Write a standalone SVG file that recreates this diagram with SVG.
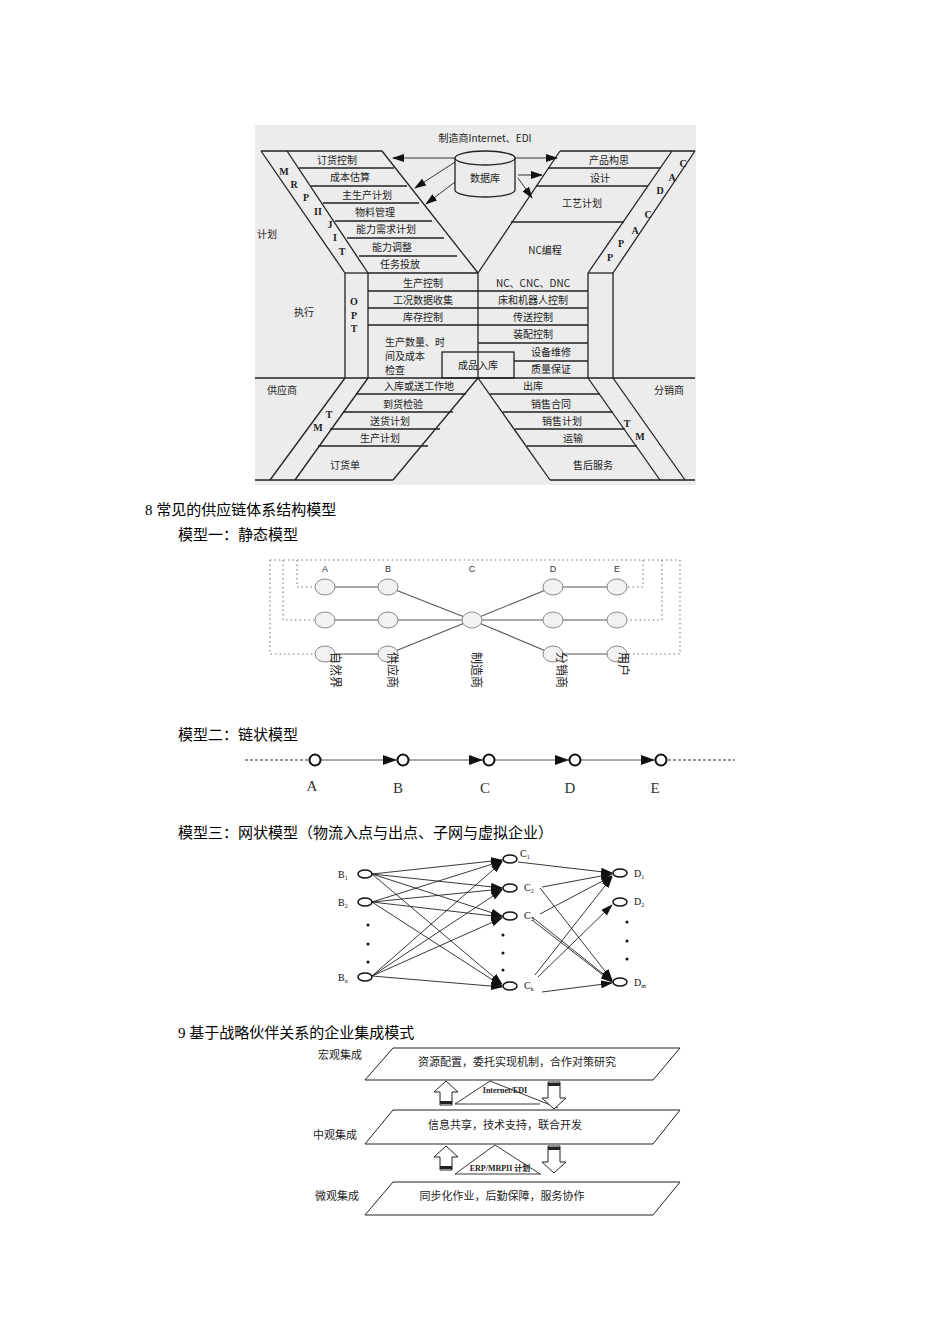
<svg xmlns="http://www.w3.org/2000/svg" width="950" height="1344" viewBox="0 0 950 1344">
<style>
.t{font-family:"Noto Sans CJK SC","Liberation Serif",serif;font-size:10px;fill:#222;text-anchor:middle}
.l{font-family:"Liberation Serif","Noto Sans CJK SC",serif;font-size:10px;font-weight:bold;fill:#222;text-anchor:middle}
.cap{font-family:"Liberation Serif","Noto Sans CJK SC",serif;font-size:15px;fill:#000}
.s{stroke:#222;stroke-width:1.3;fill:none}
.g{stroke:#555;stroke-width:1.1;fill:none}
.d{stroke:#777;stroke-width:1.1;fill:none;stroke-dasharray:1.5 3}
.c{fill:#f2f2f2;stroke:#888;stroke-width:1}
.n{fill:#fff;stroke:#111;stroke-width:1.5}
.a{stroke:#222;stroke-width:0.9;fill:none;marker-end:url(#ah)}
.sa{font-family:"Liberation Serif",serif;font-size:10px;fill:#111}
</style>
<defs>
<marker id="ah" markerWidth="12" markerHeight="8" refX="11" refY="4" orient="auto" markerUnits="userSpaceOnUse"><path d="M0,0 L12,4 L0,8 z" fill="#111"/></marker>
<marker id="ch" markerWidth="14" markerHeight="10" refX="14" refY="5" orient="auto" markerUnits="userSpaceOnUse"><path d="M0,0 L14,5 L0,10 z" fill="#111"/></marker>
</defs>

<g id="x-diagram">
<rect x="255" y="125" width="441" height="360" fill="#ececec"/>
<text class="t" x="485" y="142">制造商Internet、EDI</text>
<g class="s">
<line x1="261" y1="151" x2="345" y2="273"/><line x1="287" y1="151" x2="368" y2="273"/><line x1="382" y1="151" x2="478" y2="273"/>
<line x1="261" y1="151" x2="382" y2="151"/>
<line x1="560" y1="151" x2="478" y2="273"/><line x1="672" y1="151" x2="588" y2="273"/><line x1="695" y1="151" x2="613" y2="273"/>
<line x1="560" y1="151" x2="695" y2="151"/>
<line x1="299" y1="168" x2="394" y2="168"/><line x1="311" y1="186" x2="407" y2="186"/><line x1="323" y1="203" x2="419" y2="203"/>
<line x1="335" y1="221" x2="432" y2="221"/><line x1="347" y1="238" x2="444" y2="238"/><line x1="359" y1="256" x2="457" y2="256"/>
<line x1="548" y1="168" x2="660" y2="168"/><line x1="536" y1="186" x2="648" y2="186"/><line x1="511" y1="222" x2="624" y2="222"/>
<line x1="345" y1="273" x2="345" y2="378"/><line x1="368" y1="273" x2="368" y2="378"/><line x1="478" y1="273" x2="478" y2="378"/>
<line x1="588" y1="273" x2="588" y2="378"/><line x1="613" y1="273" x2="613" y2="378"/>
<line x1="345" y1="273" x2="368" y2="273"/><line x1="368" y1="273" x2="478" y2="273"/><line x1="588" y1="273" x2="613" y2="273"/>
<line x1="368" y1="291" x2="588" y2="291"/><line x1="368" y1="308" x2="588" y2="308"/><line x1="368" y1="325" x2="588" y2="325"/>
<line x1="478" y1="343" x2="588" y2="343"/><line x1="514" y1="361" x2="588" y2="361"/>
<rect x="442" y="352" width="72" height="26"/>
<line x1="255" y1="378" x2="695" y2="378"/>
<line x1="345" y1="378" x2="270" y2="480"/><line x1="368" y1="378" x2="295" y2="480"/><line x1="478" y1="378" x2="393" y2="480"/>
<line x1="478" y1="378" x2="550" y2="480"/><line x1="588" y1="378" x2="660" y2="480"/><line x1="613" y1="378" x2="685" y2="480"/>
<line x1="255" y1="480" x2="393" y2="480"/><line x1="550" y1="480" x2="695" y2="480"/>
<line x1="356" y1="394" x2="466" y2="394"/><line x1="343" y1="412" x2="453" y2="412"/><line x1="330" y1="429" x2="440" y2="429"/><line x1="318" y1="446" x2="428" y2="446"/>
<line x1="490" y1="394" x2="600" y2="394"/><line x1="503" y1="412" x2="613" y2="412"/><line x1="515" y1="429" x2="625" y2="429"/><line x1="527" y1="446" x2="637" y2="446"/>
</g>
<path d="M455,158 L455,190 A30,7 0 0 0 515,190 L515,158" fill="#ececec" stroke="#222" stroke-width="1.3"/>
<ellipse cx="485" cy="158" rx="30" ry="7" fill="#ececec" stroke="#222" stroke-width="1.3"/>
<text class="t" x="485" y="182">数据库</text>
<g class="a">
<line x1="455" y1="158" x2="393" y2="158"/><line x1="515" y1="158" x2="557" y2="158"/>
<line x1="455" y1="162" x2="415" y2="188"/><line x1="455" y1="182" x2="426" y2="204"/>
<line x1="518" y1="175" x2="542" y2="175"/><line x1="518" y1="178" x2="532" y2="198"/>
</g>
<g class="t">
<text x="337" y="164">订货控制</text><text x="350" y="181">成本估算</text><text x="367" y="199">主生产计划</text>
<text x="375" y="216">物料管理</text><text x="386" y="233">能力需求计划</text><text x="392" y="251">能力调整</text><text x="400" y="268">任务投放</text>
<text x="609" y="164">产品构思</text><text x="600" y="182">设计</text><text x="582" y="207">工艺计划</text><text x="545" y="254">NC编程</text>
<text x="423" y="287">生产控制</text><text x="423" y="304">工况数据收集</text><text x="423" y="321">库存控制</text>
<text x="385" y="346" text-anchor="start">生产数量、时</text><text x="385" y="360" text-anchor="start">间及成本</text><text x="385" y="374" text-anchor="start">检查</text>
<text x="478" y="369">成品入库</text>
<text x="533" y="287">NC、CNC、DNC</text><text x="533" y="304">床和机器人控制</text><text x="533" y="321">传送控制</text>
<text x="533" y="338">装配控制</text><text x="551" y="356">设备维修</text><text x="551" y="373">质量保证</text>
<text x="419" y="390">入库或送工作地</text><text x="403" y="408">到货检验</text><text x="390" y="425">送货计划</text><text x="380" y="442">生产计划</text><text x="345" y="469">订货单</text>
<text x="533" y="390">出库</text><text x="551" y="408">销售合同</text><text x="562" y="425">销售计划</text><text x="573" y="442">运输</text><text x="593" y="469">售后服务</text>
<text x="267" y="238">计划</text><text x="304" y="316">执行</text><text x="282" y="394">供应商</text><text x="669" y="394">分销商</text>
</g>
<g class="l">
<text x="284" y="175">M</text><text x="294" y="188">R</text><text x="306" y="201">P</text><text x="318" y="215">II</text><text x="330" y="228">J</text><text x="335" y="241">I</text><text x="342" y="255">T</text>
<text x="354" y="305">O</text><text x="354" y="319">P</text><text x="354" y="332">T</text>
<text x="683" y="167">C</text><text x="672" y="181">A</text><text x="660" y="194">D</text><text x="648" y="218">C</text><text x="635" y="234">A</text><text x="621" y="247">P</text><text x="610" y="261">P</text>
<text x="329" y="418">T</text><text x="318" y="431">M</text><text x="627" y="427">T</text><text x="640" y="440">M</text>
</g>
</g>

<text class="cap" x="145" y="515">8 常见的供应链体系结构模型</text>
<text class="cap" x="178" y="540">模型一：静态模型</text>

<g id="static-model">
<g class="d">
<path d="M270,560 L680,560"/>
<path d="M270,560 L270,654 L315,654"/><path d="M283,560 L283,620 L315,620"/><path d="M297,560 L297,587 L315,587"/>
<path d="M680,560 L680,654 L627,654"/><path d="M662,560 L662,620 L627,620"/><path d="M643,560 L643,587 L627,587"/>
</g>
<g class="g">
<line x1="325" y1="587" x2="388" y2="587"/><line x1="325" y1="620" x2="388" y2="620"/><line x1="325" y1="654" x2="388" y2="654"/>
<line x1="388" y1="587" x2="472" y2="620"/><line x1="388" y1="620" x2="472" y2="620"/><line x1="388" y1="654" x2="472" y2="620"/>
<line x1="472" y1="620" x2="553" y2="587"/><line x1="472" y1="620" x2="553" y2="620"/><line x1="472" y1="620" x2="553" y2="654"/>
<line x1="553" y1="587" x2="617" y2="587"/><line x1="553" y1="620" x2="617" y2="620"/><line x1="553" y1="654" x2="617" y2="654"/>
</g>
<g class="c">
<ellipse cx="325" cy="587" rx="10" ry="8"/><ellipse cx="388" cy="587" rx="10" ry="8"/><ellipse cx="553" cy="587" rx="10" ry="8"/><ellipse cx="617" cy="587" rx="10" ry="8"/>
<ellipse cx="325" cy="620" rx="10" ry="8"/><ellipse cx="388" cy="620" rx="10" ry="8"/><ellipse cx="472" cy="620" rx="10" ry="8"/><ellipse cx="553" cy="620" rx="10" ry="8"/><ellipse cx="617" cy="620" rx="10" ry="8"/>
<ellipse cx="325" cy="654" rx="10" ry="8"/><ellipse cx="388" cy="654" rx="10" ry="8"/><ellipse cx="553" cy="654" rx="10" ry="8"/><ellipse cx="617" cy="654" rx="10" ry="8"/>
</g>
<g style="font-family:'Liberation Sans',sans-serif;font-size:9px;fill:#333;text-anchor:middle">
<text x="325" y="572">A</text><text x="388" y="572">B</text><text x="472" y="572">C</text><text x="553" y="572">D</text><text x="617" y="572">E</text>
</g>
<g style="font-family:'Noto Sans CJK SC',sans-serif;font-size:12px;fill:#222">
<text transform="translate(331,652) rotate(90)">自然界</text>
<text transform="translate(388,652) rotate(90)">供应商</text>
<text transform="translate(472,652) rotate(90)">制造商</text>
<text transform="translate(557,652) rotate(90)">分销商</text>
<text transform="translate(619,652) rotate(90)">用户</text>
</g>
</g>

<text class="cap" x="178" y="740">模型二：链状模型</text>
<g id="chain-model">
<line x1="245" y1="760" x2="309" y2="760" stroke="#333" stroke-width="1.2" stroke-dasharray="3 2"/>
<line x1="668" y1="760" x2="735" y2="760" stroke="#333" stroke-width="1.2" stroke-dasharray="3 2"/>
<g stroke="#555" stroke-width="1" marker-end="url(#ch)">
<line x1="321" y1="760" x2="397" y2="760"/><line x1="409" y1="760" x2="483" y2="760"/><line x1="495" y1="760" x2="569" y2="760"/><line x1="581" y1="760" x2="655" y2="760"/>
</g>
<g fill="#fff" stroke="#111" stroke-width="2">
<circle cx="315" cy="760" r="5.5"/><circle cx="403" cy="760" r="5.5"/><circle cx="489" cy="760" r="5.5"/><circle cx="575" cy="760" r="5.5"/><circle cx="661" cy="760" r="5.5"/>
</g>
<g style="font-family:'Liberation Serif',serif;font-size:15px;fill:#333;text-anchor:middle">
<text x="312" y="791">A</text><text x="398" y="793">B</text><text x="485" y="793">C</text><text x="570" y="793">D</text><text x="655" y="793">E</text>
</g>
</g>

<text class="cap" x="178" y="838">模型三：网状模型（物流入点与出点、子网与虚拟企业）</text>
<g id="network-model">
<g class="a">
<line x1="372" y1="874" x2="502" y2="860"/><line x1="372" y1="874" x2="502" y2="888"/><line x1="372" y1="874" x2="502" y2="916"/><line x1="372" y1="874" x2="502" y2="984"/>
<line x1="372" y1="902" x2="502" y2="861"/><line x1="372" y1="902" x2="502" y2="889"/><line x1="372" y1="902" x2="502" y2="917"/><line x1="372" y1="902" x2="502" y2="986"/>
<line x1="372" y1="976" x2="502" y2="862"/><line x1="372" y1="976" x2="502" y2="890"/><line x1="372" y1="976" x2="502" y2="918"/><line x1="372" y1="976" x2="502" y2="987"/>
<line x1="518" y1="862" x2="612" y2="873"/><line x1="542" y1="887" x2="612" y2="874"/><line x1="540" y1="914" x2="612" y2="876"/>
<line x1="540" y1="888" x2="612" y2="980"/><line x1="532" y1="917" x2="612" y2="981"/><line x1="532" y1="920" x2="612" y2="982"/>
<line x1="535" y1="975" x2="612" y2="877"/><line x1="538" y1="977" x2="612" y2="905"/><line x1="542" y1="992" x2="612" y2="983"/>
</g>
<g class="n">
<ellipse cx="365" cy="874" rx="7" ry="4"/><ellipse cx="365" cy="902" rx="7" ry="4"/><ellipse cx="365" cy="977" rx="7" ry="4"/>
<ellipse cx="510" cy="859" rx="7" ry="4"/><ellipse cx="510" cy="888" rx="7" ry="4"/><ellipse cx="510" cy="916" rx="7" ry="4"/><ellipse cx="510" cy="986" rx="7" ry="4"/>
<ellipse cx="620" cy="873" rx="7" ry="4"/><ellipse cx="620" cy="902" rx="7" ry="4"/><ellipse cx="620" cy="982" rx="7" ry="4"/>
</g>
<g fill="#111">
<circle cx="368" cy="925" r="1.5"/><circle cx="368" cy="944" r="1.5"/><circle cx="368" cy="962" r="1.5"/>
<circle cx="503" cy="935" r="1.5"/><circle cx="503" cy="953" r="1.5"/><circle cx="503" cy="970" r="1.5"/>
<circle cx="627" cy="922" r="1.5"/><circle cx="627" cy="941" r="1.5"/><circle cx="627" cy="959" r="1.5"/>
</g>
<g class="sa">
<text x="338" y="878">B<tspan font-size="6" dy="2">1</tspan></text><text x="338" y="906">B<tspan font-size="6" dy="2">2</tspan></text><text x="338" y="981">B<tspan font-size="6" dy="2">n</tspan></text>
<text x="520" y="857">C<tspan font-size="6" dy="2">1</tspan></text><text x="524" y="891">C<tspan font-size="6" dy="2">2</tspan></text><text x="524" y="919">C<tspan font-size="6" dy="2">3</tspan></text><text x="524" y="989">C<tspan font-size="6" dy="2">k</tspan></text>
<text x="634" y="877">D<tspan font-size="6" dy="2">1</tspan></text><text x="634" y="905">D<tspan font-size="6" dy="2">2</tspan></text><text x="634" y="986">D<tspan font-size="6" dy="2">m</tspan></text>
</g>
</g>

<text class="cap" x="178" y="1038">9 基于战略伙伴关系的企业集成模式</text>
<g id="integration-model">
<g fill="#fff" stroke="#222" stroke-width="1">
<polygon points="393,1048 680,1048 653,1080 365,1080"/>
<polygon points="393,1110 680,1110 653,1144 365,1144"/>
<polygon points="393,1182 680,1182 653,1215 365,1215"/>
</g>
<g fill="none" stroke="#222" stroke-width="0.9">
<polyline points="455,1104 490,1081 558,1108"/><line x1="455" y1="1104" x2="540" y2="1104"/>
<polyline points="455,1174 495,1145 540,1174"/><line x1="455" y1="1174" x2="541" y2="1174"/>
</g>
<g fill="#fff" stroke="#222" stroke-width="1">
<polygon points="440,1105 440,1092 434,1092 446,1081 458,1092 452,1092 452,1105"/>
<polygon points="548,1082 548,1098 542,1098 554,1109 566,1098 560,1098 560,1082"/>
<polygon points="440,1170 440,1157 434,1157 446,1146 458,1157 452,1157 452,1170"/>
<polygon points="548,1146 548,1162 542,1162 554,1173 566,1162 560,1162 560,1146"/>
</g>
<g fill="#222"><rect x="440" y="1101" width="12" height="3"/><rect x="548" y="1083" width="12" height="3"/><rect x="440" y="1166" width="12" height="3"/><rect x="548" y="1147" width="12" height="3"/></g>
<g style="font-family:'Liberation Serif',serif;font-size:8px;font-weight:bold;fill:#222;text-anchor:middle">
<text x="505" y="1093">Internet/EDI</text><text x="500" y="1171">ERP/MRPII <tspan style="font-family:'Noto Sans CJK SC',sans-serif">计划</tspan></text>
</g>
<g class="t" style="font-size:11px">
<text x="517" y="1066">资源配置，委托实现机制，合作对策研究</text>
<text x="505" y="1129">信息共享，技术支持，联合开发</text>
<text x="502" y="1200">同步化作业，后勤保障，服务协作</text>
<text x="340" y="1059">宏观集成</text><text x="335" y="1139">中观集成</text><text x="337" y="1200">微观集成</text>
</g>
</g>
</svg>
